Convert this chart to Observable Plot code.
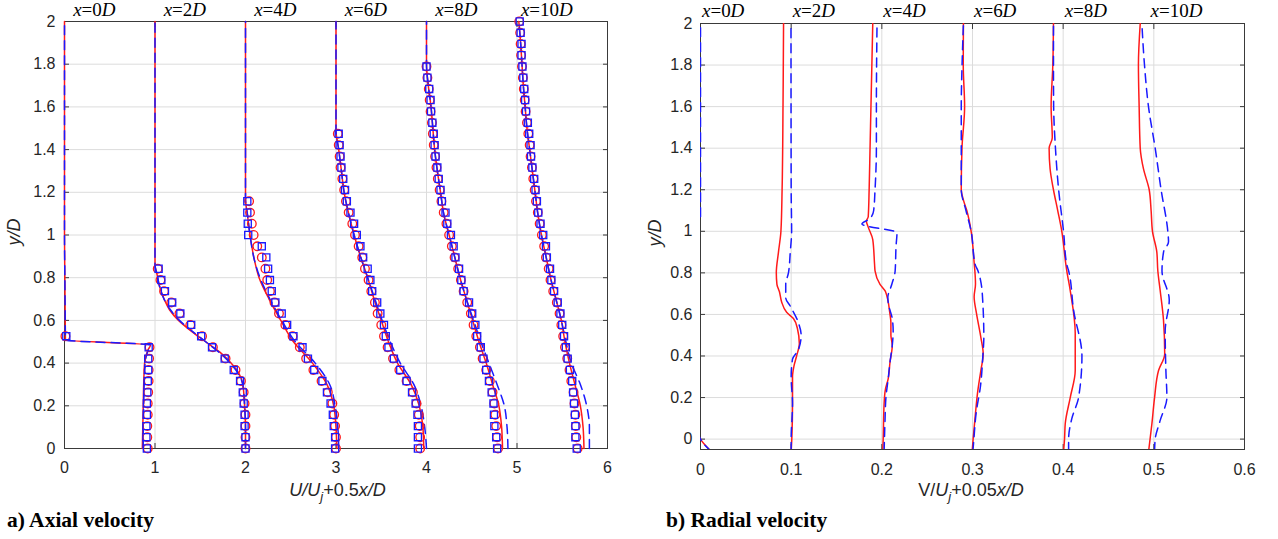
<!DOCTYPE html>
<html><head><meta charset="utf-8">
<script src="https://cdn.jsdelivr.net/npm/d3@7"></script>
<script src="https://cdn.jsdelivr.net/npm/@observablehq/plot@0.6"></script>
<style>
body{margin:0;background:#fff;}
#wrap{position:relative;width:1278px;height:539px;overflow:hidden;font-family:"Liberation Sans",Arial,sans-serif;}
.panel{position:absolute;top:0;}
.xt{position:absolute;font-size:18px;line-height:18px;color:#262626;white-space:nowrap;transform:translateX(-50%);}
.xt sub{font-size:13px;line-height:0;vertical-align:-0.35em;}
.yt{position:absolute;font-size:18px;line-height:18px;color:#262626;white-space:nowrap;transform:translate(-50%,-50%) rotate(-90deg);}
.cap{position:absolute;font-family:"Liberation Serif","Times New Roman",serif;font-weight:bold;font-size:21.5px;line-height:22px;color:#000;white-space:nowrap;}
</style></head><body>
<div id="wrap">
  <div id="left" class="panel" style="left:0px"></div>
  <div id="right" class="panel" style="left:640px"></div>
  <div class="xt" style="left:337.5px;top:481px"><i>U/U<sub>j</sub></i>+0.5<i>x/D</i></div>
  <div class="xt" style="left:971px;top:481px">V/<i>U<sub>j</sub></i>+0.05<i>x/D</i></div>
  <div class="yt" style="left:14px;top:232px"><i>y/D</i></div>
  <div class="yt" style="left:655px;top:233px"><i>y/D</i></div>
  <div class="cap" style="left:7px;top:509px">a) Axial velocity</div>
  <div class="cap" style="left:666px;top:509px">b) Radial velocity</div>
</div>
<script>
// ---------- categories & ticks ----------
const stations = [0, 2, 4, 6, 8, 10];
const axialTicksX = [0, 1, 2, 3, 4, 5, 6];
const radialTicksX = [0, 0.1, 0.2, 0.3, 0.4, 0.5, 0.6];
const yTicks = [0, 0.2, 0.4, 0.6, 0.8, 1, 1.2, 1.4, 1.6, 1.8, 2];

// ---------- axial velocity: simulation lines [U/Uj+0.5x/D, y/D] ----------
const axialRed0 = [[0.86,0],[0.865,0.1],[0.87,0.2],[0.875,0.3],[0.885,0.4],[0.92,0.46],[0.95,0.485],[0.01,0.508],[0.008,0.6],[0.004,0.8],[0,1.0],[0,2]];
const axialRed2 = [[2.0,0],[2.0,0.1],[1.99,0.2],[1.97,0.3],[1.93,0.35],[1.84,0.4],[1.72,0.45],[1.56,0.5],[1.4,0.55],[1.26,0.6],[1.16,0.65],[1.1,0.7],[1.05,0.76],[1.02,0.82],[1.0,0.86],[1.0,2]];
const axialRed4 = [[3.01,0],[3.0,0.1],[2.975,0.2],[2.9,0.3],[2.74,0.4],[2.53,0.5],[2.39,0.6],[2.26,0.7],[2.15,0.8],[2.1,0.88],[2.05,1.0],[2.02,1.1],[2.0,1.17],[2.0,2]];
const axialRed6 = [[3.97,0],[3.96,0.1],[3.92,0.2],[3.83,0.3],[3.68,0.4],[3.58,0.5],[3.5,0.6],[3.42,0.7],[3.35,0.8],[3.27,0.9],[3.2,1.0],[3.14,1.1],[3.09,1.2],[3.06,1.3],[3.03,1.4],[3.0,1.49],[3.0,2]];
const axialRed8 = [[4.84,0],[4.83,0.1],[4.8,0.2],[4.73,0.3],[4.66,0.4],[4.58,0.5],[4.51,0.6],[4.44,0.7],[4.37,0.8],[4.31,0.9],[4.25,1.0],[4.19,1.1],[4.155,1.2],[4.12,1.3],[4.09,1.4],[4.07,1.5],[4.05,1.6],[4.02,1.7],[4.0,1.8],[4.0,2]];
const axialRed10 = [[5.74,0],[5.73,0.1],[5.7,0.2],[5.64,0.3],[5.58,0.4],[5.53,0.5],[5.49,0.6],[5.43,0.7],[5.37,0.8],[5.32,0.9],[5.27,1.0],[5.23,1.1],[5.2,1.2],[5.17,1.3],[5.14,1.4],[5.11,1.5],[5.09,1.6],[5.07,1.7],[5.055,1.8],[5.04,1.9],[5.02,2.0]];

const axialBlue0 = [[0.87,0],[0.87,0.1],[0.875,0.2],[0.88,0.3],[0.89,0.4],[0.925,0.46],[0.95,0.485],[0.01,0.508],[0.008,0.6],[0.004,0.8],[0,1.0],[0,2]];
const axialBlue2 = [[2.0,0],[2.0,0.1],[1.99,0.2],[1.97,0.3],[1.92,0.35],[1.83,0.4],[1.71,0.45],[1.56,0.5],[1.41,0.55],[1.27,0.6],[1.17,0.65],[1.1,0.7],[1.05,0.76],[1.02,0.82],[1.0,0.86],[1.0,2]];
const axialBlue4 = [[3.03,0],[3.02,0.1],[2.99,0.2],[2.93,0.3],[2.77,0.4],[2.55,0.5],[2.4,0.6],[2.27,0.7],[2.16,0.8],[2.1,0.88],[2.05,1.0],[2.02,1.1],[2.0,1.17],[2.0,2]];
const axialBlue6 = [[4.0,0],[3.98,0.1],[3.94,0.2],[3.86,0.3],[3.71,0.4],[3.6,0.5],[3.51,0.6],[3.43,0.7],[3.35,0.8],[3.27,0.9],[3.2,1.0],[3.14,1.1],[3.09,1.2],[3.06,1.3],[3.03,1.4],[3.0,1.49],[3.0,2]];
const axialBlue8 = [[4.9,0],[4.89,0.1],[4.86,0.2],[4.78,0.3],[4.69,0.4],[4.6,0.5],[4.52,0.6],[4.44,0.7],[4.37,0.8],[4.31,0.9],[4.25,1.0],[4.19,1.1],[4.155,1.2],[4.12,1.3],[4.09,1.4],[4.07,1.5],[4.05,1.6],[4.02,1.7],[4.0,1.8],[4.0,2]];
const axialBlue10 = [[5.8,0],[5.8,0.1],[5.77,0.2],[5.7,0.3],[5.6,0.4],[5.54,0.5],[5.49,0.6],[5.43,0.7],[5.37,0.8],[5.32,0.9],[5.27,1.0],[5.23,1.1],[5.2,1.2],[5.17,1.3],[5.14,1.4],[5.11,1.5],[5.09,1.6],[5.07,1.7],[5.055,1.8],[5.04,1.9],[5.02,2.0]];

// ---------- axial velocity: marker series (values at markerY levels) ----------
const markerY = [0,0.053,0.105,0.158,0.211,0.263,0.316,0.368,0.421,0.474,0.526,0.579,0.632,0.684,0.737,0.789,0.842,0.895,0.947,1.0,1.053,1.105,1.158,1.211,1.263,1.316,1.368,1.421,1.474,1.526,1.579,1.632,1.684,1.737,1.789,1.842,1.895,1.947,2.0];
const squares0 = [0.91,0.905,0.905,0.91,0.91,0.915,0.92,0.925,0.925,0.93,0.02];
const squares2 = [2.0,2.0,1.99,1.99,1.98,1.97,1.94,1.87,1.77,1.63,1.51,1.40,1.28,1.19,1.11,1.07,1.04];
const squares4 = [2.99,2.99,2.975,2.965,2.94,2.90,2.85,2.76,2.69,2.63,2.53,2.46,2.40,2.33,2.29,2.27,2.25,2.23,2.18,2.03,2.025,2.02,2.02];
const squares6 = [3.905,3.905,3.905,3.90,3.88,3.84,3.78,3.71,3.64,3.58,3.55,3.53,3.49,3.455,3.40,3.38,3.35,3.30,3.27,3.23,3.20,3.16,3.12,3.10,3.08,3.06,3.05,3.04,3.03];
const squares8 = [4.78,4.77,4.75,4.745,4.74,4.72,4.69,4.66,4.63,4.60,4.56,4.54,4.505,4.47,4.41,4.385,4.36,4.32,4.30,4.27,4.23,4.21,4.17,4.155,4.135,4.12,4.10,4.09,4.08,4.065,4.05,4.045,4.03,4.01,4.0];
const squares10 = [5.66,5.645,5.645,5.64,5.63,5.62,5.61,5.585,5.56,5.54,5.52,5.50,5.48,5.45,5.41,5.38,5.365,5.33,5.32,5.29,5.26,5.235,5.22,5.205,5.19,5.17,5.155,5.15,5.135,5.12,5.10,5.09,5.08,5.07,5.06,5.05,5.05,5.04,5.03];
const circles0 = [0.92,0.915,0.915,0.92,0.92,0.925,0.93,0.93,0.935,0.94,0.01];
const circles2 = [2.0,2.0,2.0,2.0,1.99,1.98,1.95,1.89,1.78,1.64,1.52,1.39,1.27,1.18,1.10,1.06,1.03];
const circles4 = [3.0,3.0,2.99,2.98,2.96,2.91,2.84,2.75,2.67,2.60,2.52,2.44,2.37,2.32,2.27,2.24,2.22,2.18,2.13,2.09,2.07,2.05,2.04];
const circles6 = [3.93,3.93,3.925,3.915,3.89,3.85,3.78,3.70,3.63,3.57,3.53,3.50,3.46,3.43,3.39,3.36,3.32,3.29,3.25,3.21,3.18,3.14,3.11,3.09,3.07,3.05,3.04,3.03,3.02];
const circles8 = [4.79,4.78,4.77,4.76,4.75,4.73,4.70,4.66,4.62,4.59,4.55,4.52,4.49,4.45,4.41,4.38,4.35,4.31,4.28,4.25,4.22,4.19,4.165,4.145,4.125,4.11,4.095,4.08,4.07,4.06,4.045,4.035,4.025,4.01,4.0];
const circles10 = [5.67,5.655,5.65,5.645,5.635,5.625,5.60,5.58,5.555,5.53,5.51,5.49,5.47,5.44,5.40,5.37,5.35,5.32,5.30,5.275,5.25,5.23,5.21,5.195,5.18,5.165,5.15,5.14,5.125,5.11,5.095,5.085,5.075,5.065,5.055,5.045,5.04,5.035,5.025];

// ---------- radial velocity lines [V/Uj+0.05x/D, y/D] ----------
const radialRed0 = [[0.012,-0.06],[0,0],[-0.004,0.05],[-0.004,2]];
const radialRed2 = [[0.1,-0.06],[0.1007,0],[0.1015,0.17],[0.1015,0.3],[0.103,0.35],[0.106,0.4],[0.109,0.46],[0.107,0.53],[0.1025,0.58],[0.095,0.61],[0.0895,0.66],[0.087,0.71],[0.0843,0.745],[0.0836,0.8],[0.086,0.9],[0.0887,1.0],[0.09,1.2],[0.091,1.6],[0.0916,2.0]];
const radialRed4 = [[0.201,-0.06],[0.2015,0],[0.2025,0.17],[0.204,0.24],[0.207,0.29],[0.209,0.37],[0.2115,0.45],[0.21,0.5],[0.21,0.56],[0.209,0.6],[0.204,0.71],[0.198,0.745],[0.1925,0.81],[0.192,0.84],[0.19,0.96],[0.185,1.02],[0.183,1.05],[0.185,1.07],[0.186,1.2],[0.187,1.4],[0.188,1.6],[0.19,2.0]];
const radialRed6 = [[0.2996,-0.06],[0.3007,0],[0.3033,0.125],[0.3055,0.22],[0.3092,0.33],[0.3118,0.41],[0.3092,0.49],[0.3044,0.605],[0.3018,0.685],[0.3033,0.747],[0.3026,0.81],[0.302,0.84],[0.2985,1.0],[0.2937,1.1],[0.29,1.15],[0.2876,1.2],[0.2884,1.4],[0.2913,1.6],[0.2898,1.8],[0.29,2.0]];
const radialRed8 = [[0.4004,-0.06],[0.4015,0],[0.4023,0.075],[0.4078,0.2],[0.4133,0.33],[0.4133,0.51],[0.4078,0.715],[0.404,0.81],[0.403,0.84],[0.3985,1.0],[0.394,1.1],[0.3893,1.2],[0.3856,1.3],[0.3845,1.4],[0.388,1.45],[0.3867,1.6],[0.3886,1.8],[0.3893,2.0]];
const radialRed10 = [[0.4942,-0.06],[0.4979,0.075],[0.5008,0.2],[0.5052,0.33],[0.512,0.41],[0.5107,0.57],[0.507,0.715],[0.5044,0.81],[0.5033,0.9],[0.4985,1.0],[0.497,1.1],[0.4949,1.2],[0.4886,1.3],[0.485,1.4],[0.4838,1.6],[0.483,1.8],[0.485,2.0]];

const radialBlue0 = [[0.012,-0.06],[0,0],[-0.003,0.05],[-0.003,1.03],[0,1.06],[0,2]];
const radialBlue2 = [[0.1,-0.06],[0.1,0],[0.1015,0.17],[0.1,0.3],[0.1015,0.385],[0.108,0.43],[0.111,0.5],[0.108,0.56],[0.099,0.64],[0.094,0.68],[0.094,0.745],[0.097,0.8],[0.099,0.9],[0.1005,1.0],[0.1,1.2],[0.0998,2.0]];
const radialBlue4 = [[0.2025,-0.06],[0.2035,0.09],[0.2045,0.2],[0.207,0.29],[0.209,0.37],[0.2115,0.45],[0.2125,0.52],[0.2115,0.58],[0.208,0.636],[0.2066,0.68],[0.211,0.745],[0.2147,0.81],[0.2157,0.93],[0.2167,0.993],[0.178,1.035],[0.1866,1.06],[0.191,1.1],[0.1925,1.2],[0.194,1.4],[0.194,1.6],[0.1947,2.0]];
const radialBlue6 = [[0.3004,-0.06],[0.3015,0],[0.304,0.125],[0.3088,0.255],[0.3114,0.4],[0.3125,0.49],[0.3114,0.655],[0.3096,0.747],[0.306,0.81],[0.303,0.84],[0.2985,1.0],[0.2928,1.1],[0.2876,1.2],[0.2876,1.4],[0.2876,1.6],[0.2885,1.8],[0.29,2.0]];
const radialBlue8 = [[0.406,-0.06],[0.406,0],[0.4096,0.1],[0.417,0.2],[0.4207,0.4],[0.4115,0.62],[0.406,0.81],[0.404,0.84],[0.4004,1.0],[0.395,1.2],[0.3915,1.4],[0.3895,1.6],[0.3893,1.8],[0.3893,2.0]];
const radialBlue10 = [[0.5008,-0.06],[0.5015,0],[0.507,0.09],[0.5144,0.2],[0.5133,0.33],[0.5125,0.52],[0.517,0.67],[0.509,0.81],[0.5107,0.9],[0.5162,0.95],[0.5154,1.0],[0.508,1.2],[0.5015,1.4],[0.4941,1.6],[0.4897,1.8],[0.4868,2.0]];

// ---------- tables built for Plot ----------
const toRows = (series) => series.flatMap((pts, k) => pts.map(([v, y]) => ({k, v, y})));
const toMarkerRows = (series) => series.flatMap((vals, k) => vals.map((v, i) => ({k, v, y: markerY[i]})));
const axialRedRows = toRows([axialRed0, axialRed2, axialRed4, axialRed6, axialRed8, axialRed10]);
const axialBlueRows = toRows([axialBlue0, axialBlue2, axialBlue4, axialBlue6, axialBlue8, axialBlue10]);
const circleRows = toMarkerRows([circles0, circles2, circles4, circles6, circles8, circles10]);
const squareRows = toMarkerRows([squares0, squares2, squares4, squares6, squares8, squares10]);
const radialRedRows = toRows([radialRed0, radialRed2, radialRed4, radialRed6, radialRed8, radialRed10]);
const radialBlueRows = toRows([radialBlue0, radialBlue2, radialBlue4, radialBlue6, radialBlue8, radialBlue10]);

const RED = "#ff1a1a", BLUE = "#1a1aff", GRID = "#dcdcdc", AX = "#3a3a3a", TXT = "#262626";
const fmt = d => String(d);
const blank = () => "";
const serif = "'Liberation Serif', 'Times New Roman', serif";

function frameMarks(xt, yt, gx, gy, padX, padY) {
  return [
    Plot.gridX(gx, {stroke: GRID, strokeOpacity: 1, strokeWidth: 1}),
    Plot.gridY(gy, {stroke: GRID, strokeOpacity: 1, strokeWidth: 1}),
    Plot.axisX(xt, {anchor: "bottom", tickSize: 0, tickPadding: padX, tickFormat: fmt, fontSize: 16, fill: TXT}),
    Plot.axisY(yt, {anchor: "left", tickSize: 0, tickPadding: padY, tickFormat: fmt, fontSize: 16, fill: TXT}),
    Plot.axisX(xt, {anchor: "bottom", tickSize: 5, dy: -5, tickFormat: blank, stroke: AX}),
    Plot.axisX(xt, {anchor: "top", tickSize: 5, dy: 5, tickFormat: blank, stroke: AX, label: null}),
    Plot.axisY(yt, {anchor: "left", tickSize: 5, dx: 5, tickFormat: blank, stroke: AX, label: null}),
    Plot.axisY(yt, {anchor: "right", tickSize: 5, dx: -5, tickFormat: blank, stroke: AX, label: null}),
    Plot.frame({stroke: AX, strokeWidth: 1})
  ];
}

const baseStyle = {fontFamily: "'Liberation Sans', Arial, sans-serif", fontSize: "16px", color: TXT, background: "transparent", overflow: "visible"};

const leftPlot = Plot.plot({
  width: 640, height: 505,
  marginLeft: 64, marginRight: 33, marginTop: 21, marginBottom: 57,
  style: baseStyle,
  x: {domain: [0, 6], label: null},
  y: {domain: [0, 2], label: null},
  marks: [
    ...frameMarks(axialTicksX, yTicks, axialTicksX.slice(1, -1), yTicks.slice(1, -1), 13, 9),
    Plot.line(axialRedRows, {x: "v", y: "y", z: "k", stroke: RED, strokeWidth: 1.5, curve: "monotone-y"}),
    Plot.line(axialBlueRows, {x: "v", y: "y", z: "k", stroke: BLUE, strokeWidth: 1.5, strokeDasharray: "9,6", curve: "monotone-y"}),
    Plot.dot(circleRows, {x: "v", y: "y", r: 4.3, stroke: RED, strokeWidth: 1.3, fill: "none"}),
    Plot.dot(squareRows, {x: "v", y: "y", r: 4, symbol: "square", stroke: BLUE, strokeWidth: 1.3, fill: "none"}),
    Plot.text(stations, {x: s => s * 0.5 + 0.33, frameAnchor: "top", lineAnchor: "bottom", dy: -5.5, text: s => `x=${s}D`, fontFamily: serif, fontSize: 19, fill: "#000"})
  ]
});

const rightPlot = Plot.plot({
  width: 638, height: 505,
  marginLeft: 60, marginRight: 34, marginTop: 23, marginBottom: 56,
  style: baseStyle,
  x: {domain: [0, 0.6], label: null},
  y: {domain: [-0.05, 2], label: null},
  marks: [
    ...frameMarks(radialTicksX, yTicks, radialTicksX.slice(1, -1), yTicks.slice(0, -1), 14, 8),
    Plot.line(radialRedRows, {x: "v", y: "y", z: "k", stroke: RED, strokeWidth: 1.5, curve: "monotone-y", clip: true}),
    Plot.line(radialBlueRows, {x: "v", y: "y", z: "k", stroke: BLUE, strokeWidth: 1.5, strokeDasharray: "9,6", curve: "monotone-y", clip: true}),
    Plot.text(stations, {x: s => s * 0.05 + 0.025, frameAnchor: "top", lineAnchor: "bottom", dy: -6.5, text: s => `x=${s}D`, fontFamily: serif, fontSize: 19, fill: "#000"})
  ]
});

function italicize(svg) {
  d3.select(svg).selectAll("text").each(function () {
    const m = /^x=(\d+)D$/.exec(this.textContent);
    if (!m) return;
    const t = d3.select(this);
    t.text(null);
    t.append("tspan").attr("font-style", "italic").text("x");
    t.append("tspan").text("=" + m[1]);
    t.append("tspan").attr("font-style", "italic").text("D");
  });
}
italicize(leftPlot);
italicize(rightPlot);

document.getElementById("left").appendChild(leftPlot);
document.getElementById("right").appendChild(rightPlot);
</script>
</body></html>
